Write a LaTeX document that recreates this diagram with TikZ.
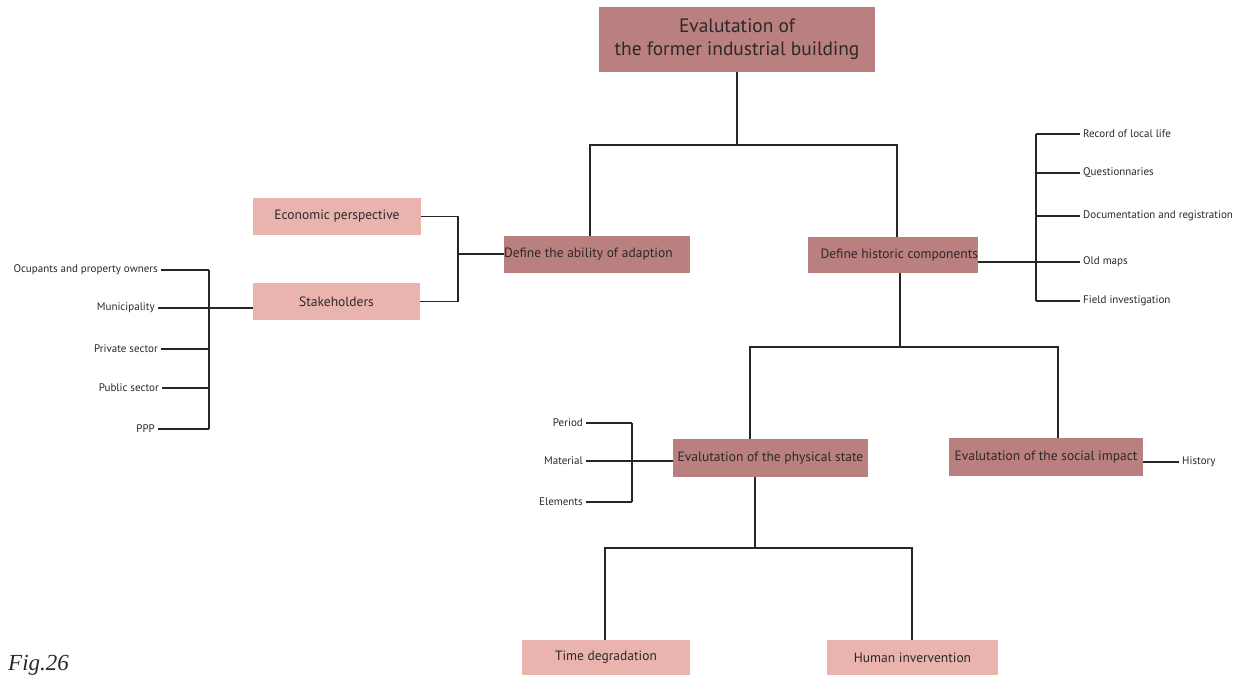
\documentclass[tikz,border=0pt]{standalone}
\usepackage{fontspec}
\setmainfont{PT Sans}
\newfontfamily\figfont{Liberation Serif}
\usetikzlibrary{calc}
\definecolor{darkrose}{RGB}{186,128,128}
\definecolor{lightrose}{RGB}{233,180,174}
\definecolor{txt}{RGB}{45,40,40}
\begin{document}
\begin{tikzpicture}[x=1pt,y=-1pt,
  darkbox/.style={fill=darkrose,draw=none,inner sep=0pt,text=txt,font=\fontsize{13.5}{15}\selectfont},
  lightbox/.style={fill=lightrose,draw=none,inner sep=0pt,text=txt,font=\fontsize{13.5}{15}\selectfont},
  smalllabel/.style={inner sep=0pt,inner xsep=3pt,text=txt,font=\fontsize{11}{12}\selectfont},
  conn/.style={line width=1.6pt,draw=black!85}
]
\useasboundingbox (0,0) rectangle (1240,679);
\fill[white] (0,0) rectangle (1240,679);

% boxes
\node[darkbox,minimum width=276,minimum height=65,align=center,font=\fontsize{19.4}{23}\selectfont] (top) at (737,39.5) {Evalutation of\\the former industrial building};
\node[darkbox,minimum width=186,minimum height=37] (adapt) at (597,254.5) {};
\node[anchor=west,inner sep=0pt,text=txt,font=\fontsize{13.5}{15}\selectfont] (adapttxt) at (adapt.west) {Define the ability of adaption};
\node[darkbox,minimum width=170,minimum height=36] (hist) at (893,255) {};
\node[anchor=east,inner sep=0pt,text=txt,font=\fontsize{13.5}{15}\selectfont] (histtxt) at (hist.east) {Define historic components};
\node[lightbox,minimum width=168,minimum height=37] (econ) at (337,216.5) {Economic perspective};
\node[lightbox,minimum width=167,minimum height=37] (stake) at (336.5,301.5) {Stakeholders};
\node[darkbox,minimum width=195,minimum height=38] (phys) at (770.5,458) {Evalutation of the physical state};
\node[darkbox,minimum width=194,minimum height=38] (social) at (1046,457) {Evalutation of the social impact};
\node[lightbox,minimum width=168,minimum height=35] (time) at (606,657.5) {Time degradation};
\node[lightbox,minimum width=171,minimum height=35] (human) at (912.5,657.5) {Human invervention};

% top tree
\coordinate (j1) at (737,145);
\draw[conn] (top.south) -- (j1);
\draw[conn] ($(adapt.north)+(-7,0)$) |- (j1) -| ($(hist.north)+(4,0)$);

% economic / stakeholders
\coordinate (jA) at (458,254);
\draw[conn] (econ.east) -| (jA) |- (stake.east);
\draw[conn] (jA) -- (jA -| adapt.west);

% left list
\node[smalllabel,anchor=east] (occ) at (161,270) {Ocupants and property owners};
\node[smalllabel,anchor=east] (mun) at (158,308) {Municipality};
\node[smalllabel,anchor=east] (priv) at (161,349) {Private sector};
\node[smalllabel,anchor=east] (pub) at (162,388) {Public sector};
\node[smalllabel,anchor=east] (ppp) at (158,429) {PPP};
\coordinate (lbar) at (209,270);
\coordinate (lbarbot) at (209,429);
\draw[conn] (lbar) -- (lbarbot);
\draw[conn] (occ.east) -- (occ.east -| lbar);
\draw[conn] (mun.east) -- (mun.east -| stake.west);
\draw[conn] (priv.east) -- (priv.east -| lbar);
\draw[conn] (pub.east) -- (pub.east -| lbar);
\draw[conn] (ppp.east) -- (ppp.east -| lbar);

% right list
\node[smalllabel,anchor=west] (rec) at (1080,134) {Record of local life};
\node[smalllabel,anchor=west] (que) at (1080,173) {Questionnaries};
\node[smalllabel,anchor=west] (doc) at (1080,216) {Documentation and registration};
\node[smalllabel,anchor=west] (old) at (1080,262) {Old maps};
\node[smalllabel,anchor=west] (field) at (1080,301) {Field investigation};
\coordinate (rbar) at (1036,134);
\coordinate (rbarbot) at (1036,301);
\draw[conn] (rbar) -- (rbarbot);
\draw[conn] (rec.west) -- (rec.west -| rbar);
\draw[conn] (que.west) -- (que.west -| rbar);
\draw[conn] (doc.west) -- (doc.west -| rbar);
\draw[conn] (old.west) -- (old.west -| hist.east);
\draw[conn] (field.west) -- (field.west -| rbar);

% middle tree
\coordinate (j2) at (900,347);
\draw[conn] ($(hist.south)+(7,0)$) -- (j2);
\draw[conn] ($(phys.north)+(-20.5,0)$) |- (j2) -| ($(social.north)+(12,0)$);

% physical state list
\node[smalllabel,anchor=east] (period) at (586,423) {Period};
\node[smalllabel,anchor=east] (material) at (586,461) {Material};
\node[smalllabel,anchor=east] (elements) at (586,502) {Elements};
\coordinate (pbar) at (632,423);
\coordinate (pbarbot) at (632,502);
\draw[conn] (pbar) -- (pbarbot);
\draw[conn] (period.east) -- (period.east -| pbar);
\draw[conn] (material.east) -- (material.east -| phys.west);
\draw[conn] (elements.east) -- (elements.east -| pbar);

% social impact
\node[smalllabel,anchor=west] (history) at (1179,462) {History};
\draw[conn] (history.west) -- (history.west -| social.east);

% bottom tree
\coordinate (j3) at (755,548);
\draw[conn] ($(phys.south)+(-15.5,0)$) -- (j3);
\draw[conn] ($(time.north)+(-1,0)$) |- (j3) -| ($(human.north)+(-0.5,0)$);

% figure label
\node[anchor=base west,inner sep=0pt,text=txt,font=\figfont\itshape\fontsize{23}{25}\selectfont] (fig) at (8,670) {Fig.26};
\end{tikzpicture}
\end{document}
